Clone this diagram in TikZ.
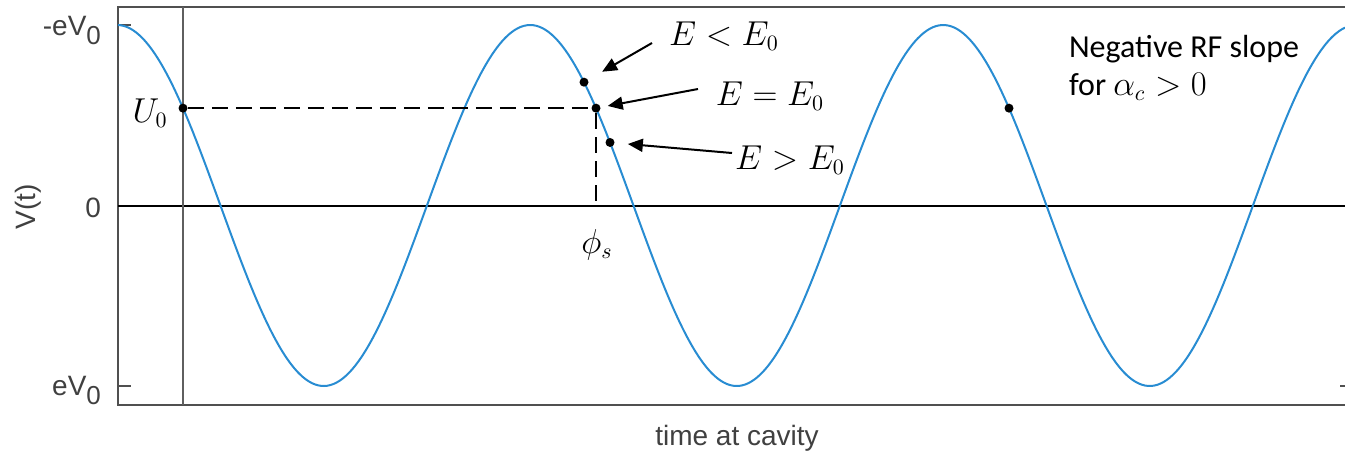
\documentclass[tikz,border=0pt]{standalone}
\usepackage{fontspec}
\setmainfont{Carlito}
\newfontfamily\axisfont{Liberation Sans}
\usetikzlibrary{arrows.meta}

\definecolor{curveblue}{RGB}{40,140,210}
\definecolor{axisgray}{RGB}{80,80,80}
\definecolor{labelgray}{RGB}{64,64,64}
\definecolor{markgray}{RGB}{95,95,95}

\begin{document}
\begin{tikzpicture}[x=0.5pt, y=-0.5pt,
    declare function={vt(\t)=205.5-180.5*cos((\t-117.2)/413*360);},
    dot/.style={circle, fill=black, inner sep=0pt, minimum size=4.5pt},
    ptr/.style={-{Triangle[length=7.5pt,width=6.5pt]}, line width=1pt},
    axislabel/.style={text=labelgray, font=\axisfont\fontsize{14}{16}\selectfont},
    mathlabel/.style={font=\fontsize{16}{19}\selectfont},
    note/.style={font=\fontsize{16}{19}\selectfont, align=left}]
    % --- 定义坐标和参数 ---
    \def\xL{118}      % 坐标框左边
    \def\xR{1345}     % 坐标框右边
    \def\yT{7}        % 坐标框上边
    \def\yB{405}      % 坐标框下边
    \def\yZero{206}   % V(t) = 0
    \def\sub#1{\raisebox{-4.5pt}{\fontsize{13}{15}\selectfont #1}}
    \useasboundingbox (0,0) rectangle (1345,452);

    % --- 绘制坐标框和刻度 ---
    \draw[axisgray, line width=1pt] (\xR,\yT) -- (\xL,\yT) -- (\xL,\yB) -- (\xR,\yB);
    \draw[axisgray, line width=1pt] (\xL,25) -- (131,25);
    \draw[axisgray, line width=1pt] (\xL,386) -- (131,386);
    \draw[axisgray, line width=1pt] (\xR,386) -- (1340,386);
    % 零线
    \draw[black, line width=0.8pt] (\xL,\yZero) -- (\xR,\yZero);
    % 竖线 (t = U_0 处)
    \draw[markgray, line width=1.3pt] (183,\yT) -- (183,\yB);

    % --- 刻度标签 ---
    \node[axislabel, anchor=east] (ltop) at (108,30) {-eV\sub{0}};
    \node[axislabel, anchor=east] (lzero) at (108,208) {0};
    \node[axislabel, anchor=east] (lbot) at (108,390) {eV\sub{0}};
    \node[axislabel, rotate=90] (lv) at (28,207) {V(t)};
    \node[axislabel] (lx) at (737,438) {time at cavity};

    % --- 绘制 RF 电压曲线 (蓝色) ---
    \draw[curveblue, line width=1pt] plot[domain=\xL:\xR, samples=400, smooth] (\x,{vt(\x)});

    % --- 曲线上的点 ---
    \node[dot] (u0) at (183,{vt(183)}) {};
    \node[dot] (ps) at (596,{vt(596)}) {};
    \node[dot] (elow) at (584,{vt(584)}) {};
    \node[dot] (ehigh) at (610,{vt(610)}) {};
    \node[dot] (u0b) at (1009,{vt(1009)}) {};
    \coordinate (ps0) at (596,\yZero);

    % 从 U_0 到 phi_s 的虚线
    \draw[dash pattern=on 8pt off 4pt, line width=0.7pt] (u0) -- (ps) -- (ps0);
    \node[mathlabel] (lu) at (150,113) {$U_0$};
    \node[mathlabel] (lps) at (597,245) {$\phi_s$};

    % --- 能量标签和箭头 ---
    \node[mathlabel] (llt) at (724,36) {$E < E_0$};
    \node[mathlabel] (leq) at (770,96) {$E = E_0$};
    \node[mathlabel] (lgt) at (790,160) {$E > E_0$};
    \coordinate (t1) at (652,43);
    \coordinate (t2) at (698,89);
    \coordinate (t3) at (732,153);
    \draw[ptr, shorten >=8pt] (t1) -- (elow);
    \draw[ptr, shorten >=3.5pt] (t2) -- (ps);
    \draw[ptr, shorten >=6.5pt] (t3) -- (ehigh);

    % --- 右上角说明 ---
    \node[note, anchor=north west] (rf) at (1062,28) {Negative RF slope\\for $\alpha_c > 0$};

\end{tikzpicture}
\end{document}
